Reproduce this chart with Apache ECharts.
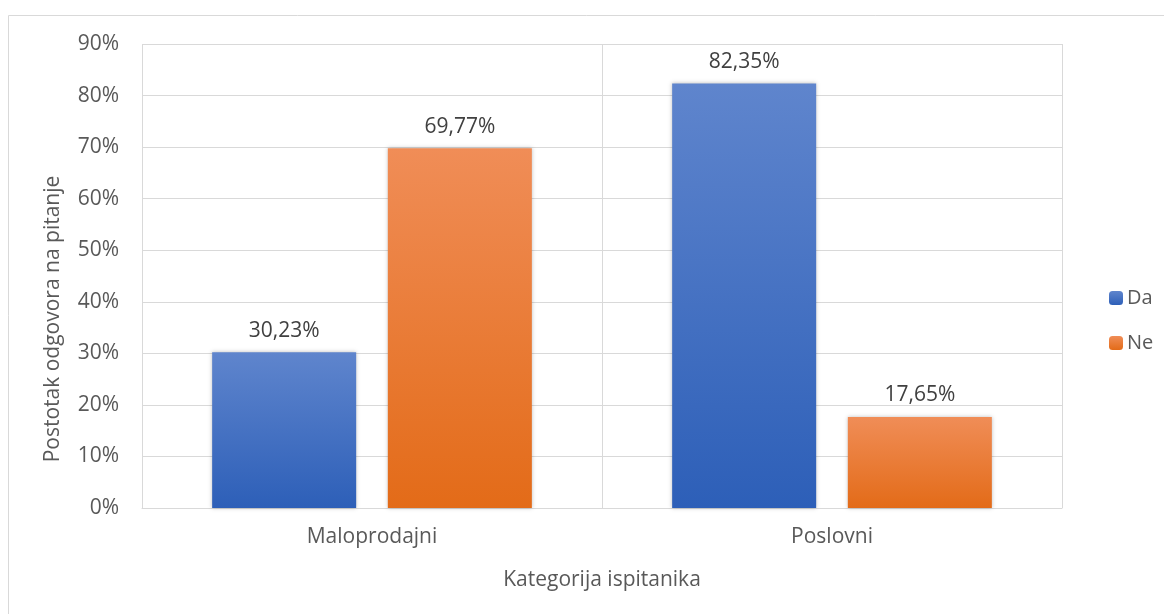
<!DOCTYPE html>
<html>
<head>
<meta charset="utf-8">
<script src="https://cdn.jsdelivr.net/npm/echarts@6/dist/echarts.min.js"></script>
<style>
  html, body { margin: 0; padding: 0; background: #fff; }
  #chart { width: 1164px; height: 614px; }
</style>
</head>
<body>
<div id="chart"></div>
<script>
  // kategorije i vrijednosti (postotci)
  const categories = ['Maloprodajni', 'Poslovni']
  const daValues = [30.23, 82.35]
  const neValues = [69.77, 17.65]
  const seriesNames = ['Da', 'Ne']

  const font = '"Open Sans", sans-serif'
  const textColor = '#595959'
  const fs = 21

  function grad (top, bottom) {
    return new echarts.graphic.LinearGradient(0, 0, 0, 1, [
      { offset: 0, color: top },
      { offset: 1, color: bottom }
    ])
  }

  function fmt (p) {
    return p.value.toFixed(2).replace('.', ',') + '%'
  }

  let chart = echarts.init(document.getElementById('chart'))
  let options = {
    animation: false,
    textStyle: { fontFamily: font },
    graphic: [{
      type: 'rect',
      shape: { x: 8.5, y: 15.5, width: 1170, height: 620 },
      style: { fill: 'none', stroke: '#d9d9d9', lineWidth: 1 }
    }],
    grid: { left: 142, right: 102, top: 44, bottom: 106 },
    legend: {
      orient: 'vertical',
      left: 1104,
      top: 283,
      itemWidth: 14,
      itemHeight: 14,
      itemGap: 25,
      textStyle: { color: textColor, fontSize: 20, fontFamily: font, padding: [0, 0, 0, -1] },
      data: seriesNames
    },
    xAxis: {
      type: 'category',
      data: categories,
      name: 'Kategorija ispitanika',
      nameLocation: 'middle',
      nameGap: 62,
      nameTextStyle: { color: textColor, fontSize: fs },
      axisLine: { lineStyle: { color: '#d9d9d9', width: 1 } },
      axisTick: { show: false },
      axisLabel: { color: textColor, fontSize: fs, margin: 19 },
      splitLine: { show: true, lineStyle: { color: '#d9d9d9' } }
    },
    yAxis: {
      type: 'value',
      min: 0,
      max: 90,
      interval: 10,
      name: 'Postotak odgovora na pitanje',
      nameLocation: 'middle',
      nameGap: 78,
      nameRotate: 90,
      nameTextStyle: { color: textColor, fontSize: fs, padding: [0, 86, 0, 0] },
      axisLine: { show: false },
      axisTick: { show: false },
      axisLabel: { color: textColor, fontSize: fs, margin: 23, formatter: '{value}%' },
      splitLine: { lineStyle: { color: '#d9d9d9' } }
    },
    series: [
      {
        name: seriesNames[0],
        type: 'bar',
        data: daValues,
        barWidth: 144,
        barGap: '22%',
        itemStyle: {
          color: grad('#5f85cd', '#2d5fb8'),
          shadowColor: 'rgba(0,0,0,0.25)',
          shadowBlur: 4
        },
        label: { show: true, position: 'top', distance: 11, color: '#404040', fontSize: fs, formatter: fmt }
      },
      {
        name: seriesNames[1],
        type: 'bar',
        data: neValues,
        barWidth: 144,
        itemStyle: {
          color: grad('#f08d57', '#e36b18'),
          shadowColor: 'rgba(0,0,0,0.25)',
          shadowBlur: 4
        },
        label: { show: true, position: 'top', distance: 11, color: '#404040', fontSize: fs, formatter: fmt }
      }
    ]
  }
  chart.setOption(options)
</script>
</body>
</html>
